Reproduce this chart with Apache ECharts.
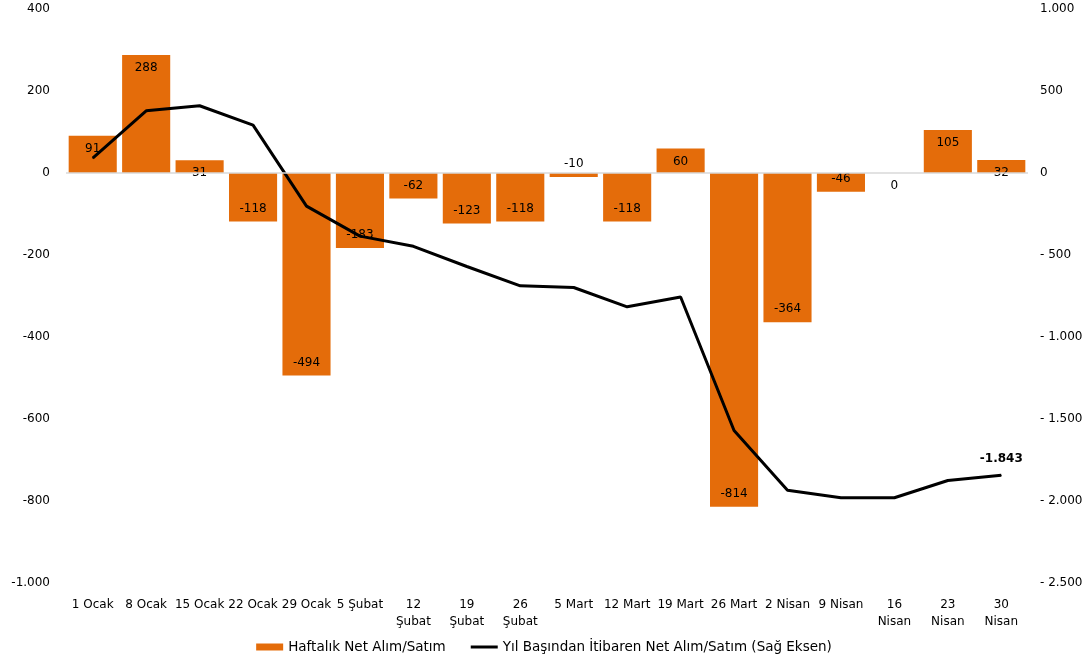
<!DOCTYPE html>
<html>
<head>
<meta charset="utf-8">
<script src="https://cdn.jsdelivr.net/npm/echarts@6/dist/echarts.min.js"></script>
<style>
html,body{margin:0;padding:0;background:#fff;}
#chart{width:1088px;height:666px;}
</style>
</head>
<body>
<div id="chart"></div>
<script>
const categories = ["1 Ocak","8 Ocak","15 Ocak","22 Ocak","29 Ocak","5 Şubat","12\nŞubat","19\nŞubat","26\nŞubat","5 Mart","12 Mart","19 Mart","26 Mart","2 Nisan","9 Nisan","16\nNisan","23\nNisan","30\nNisan"];
const weeklyNet = [91, 288, 31, -118, -494, -183, -62, -123, -118, -10, -118, 60, -814, -364, -46, 0, 105, 32];
const ytdNet = [91, 379, 410, 292, -202, -385, -447, -570, -688, -698, -816, -756, -1570, -1934, -1980, -1980, -1875, -1843];
const seriesNames = ["Haftalık Net Alım/Satım", "Yıl Başından İtibaren Net Alım/Satım (Sağ Eksen)"];

function trNum(v, spaced) {
  const neg = v < 0;
  const s = String(Math.abs(Math.round(v))).replace(/\B(?=(\d{3})+(?!\d))/g, ".");
  return neg ? (spaced ? "- " : "-") + s : s;
}

const FONT = "DejaVu Sans";
const chart = echarts.init(document.getElementById("chart"));

const barData = weeklyNet.map(v => ({
  value: v,
  label: { position: v >= 0 ? "insideTop" : "insideBottom" }
}));
const lastIdx = ytdNet.length - 1;
const lineData = ytdNet.map((v, i) => i === lastIdx ? {
  value: v,
  label: { show: true, position: "top", distance: 10, fontWeight: "bold", fontSize: 12, fontFamily: FONT, color: "#000",
           formatter: p => trNum(p.value) }
} : v);

chart.setOption({
  animation: false,
  backgroundColor: "#fff",
  textStyle: { fontFamily: FONT },
  grid: { left: 66, right: 60, top: 9, bottom: 83, containLabel: false },
  legend: {
    bottom: 7,
    left: "center",
    itemWidth: 27,
    itemHeight: 7,
    itemGap: 25,
    textStyle: { fontFamily: FONT, fontSize: 13.5, color: "#000" },
    data: [
      { name: seriesNames[0], icon: "rect" },
      { name: seriesNames[1], icon: "path://M0,0H27V3H0Z" }
    ]
  },
  xAxis: {
    type: "category",
    data: categories,
    axisLine: { show: false, onZero: false },
    axisTick: { show: false },
    axisLabel: { interval: 0, color: "#000", fontFamily: FONT, fontSize: 12, margin: 13, lineHeight: 17 }
  },
  yAxis: [
    {
      type: "value", min: -1000, max: 400, interval: 200,
      splitLine: { show: false },
      axisLine: { show: false }, axisTick: { show: false },
      axisLabel: { color: "#000", fontFamily: FONT, fontSize: 12, margin: 16, formatter: v => trNum(v) }
    },
    {
      type: "value", min: -2500, max: 1000, interval: 500,
      splitLine: { show: false },
      axisLine: { show: false }, axisTick: { show: false },
      axisLabel: { color: "#000", fontFamily: FONT, fontSize: 12, margin: 12, formatter: v => trNum(v, true) }
    }
  ],
  series: [
    {
      name: seriesNames[0],
      type: "bar",
      yAxisIndex: 0,
      barCategoryGap: "10%",
      itemStyle: { color: "#E46C0A" },
      label: { show: true, distance: 7, color: "#000", fontFamily: FONT, fontSize: 12, formatter: p => trNum(p.value) },
      data: barData,
      markLine: {
        silent: true, symbol: "none",
        label: { show: false },
        lineStyle: { color: "#d9d9d9", type: "solid", width: 1.5 },
        data: [ { yAxis: 0 } ]
      },
      z: 2
    },
    {
      name: seriesNames[1],
      type: "line",
      yAxisIndex: 1,
      symbol: "circle",
      symbolSize: 1,
      showSymbol: true,
      lineStyle: { color: "#000", width: 3 },
      itemStyle: { color: "#000" },
      data: lineData,
      z: 3
    }
  ]
});
</script>
</body>
</html>
